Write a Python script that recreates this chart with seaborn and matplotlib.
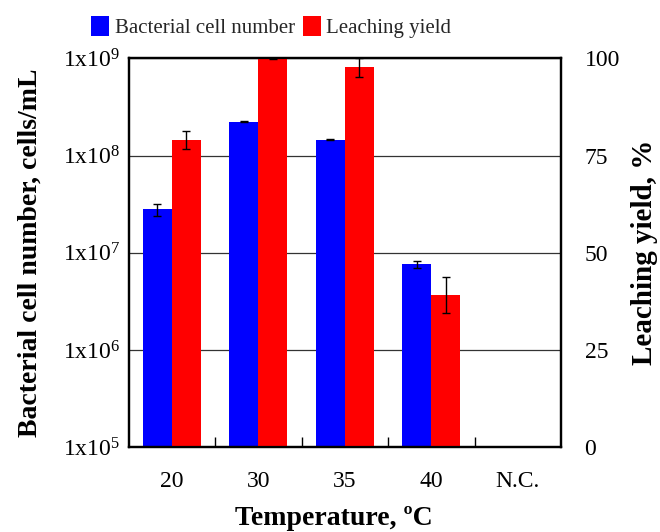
import numpy as np
import pandas as pd
import matplotlib
matplotlib.use("Agg")
import matplotlib.pyplot as plt
from matplotlib.patches import Patch
from matplotlib.ticker import FixedLocator, FuncFormatter, NullLocator
import seaborn as sns

# ---- data ----
temperatures = ["20", "30", "35", "40", "N.C."]
series = ["Bacterial cell number", "Leaching yield"]
cell_number = [2.8e7, 2.23e8, 1.46e8, 7.6e6, np.nan]
cell_err = [4.0e6, 2.0e6, 1.5e6, 6.0e5, np.nan]
leaching_yield = [79.0, 100.0, 97.7, 39.2, np.nan]
leaching_err = [2.4, 0.3, 2.4, 4.7, np.nan]
left_ticks = [1e5, 1e6, 1e7, 1e8, 1e9]
right_ticks = [0, 25, 50, 75, 100]
colors = ["#0000FF", "#FF0000"]

sns.set_theme(style="white")
plt.rcParams["font.family"] = ["Liberation Serif", "DejaVu Serif"]
plt.rcParams["mathtext.fontset"] = "custom"
plt.rcParams["mathtext.rm"] = "Liberation Serif"
plt.rcParams["mathtext.it"] = "Liberation Serif:italic"
plt.rcParams["mathtext.bf"] = "Liberation Serif:bold"

df_cells = pd.DataFrame({"Temperature": temperatures, "Series": series[0], "Value": cell_number})
df_yield = pd.DataFrame({"Temperature": temperatures, "Series": series[1], "Value": leaching_yield})

fig = plt.figure(figsize=(6.6, 5.32), dpi=100)
ax1 = fig.add_axes([0.1947, 0.1592, 0.6553, 0.7312])
ax1.set_yscale("log")
ax2 = ax1.twinx()

sns.barplot(data=df_cells, x="Temperature", y="Value", hue="Series", hue_order=series,
            order=temperatures, palette=colors, width=0.67, saturation=1, dodge=True,
            errorbar=None, legend=False, ax=ax1, linewidth=0)
sns.barplot(data=df_yield, x="Temperature", y="Value", hue="Series", hue_order=series,
            order=temperatures, palette=colors, width=0.67, saturation=1, dodge=True,
            errorbar=None, legend=False, ax=ax2, linewidth=0)

def add_errors(ax, values, errs):
    for p in ax.patches:
        h = p.get_height()
        if not np.isfinite(h) or h <= 0:
            continue
        xc = p.get_x() + p.get_width() / 2
        i = int(round(xc))
        if i < 0 or i >= len(values) or not np.isfinite(values[i]):
            continue
        ax.errorbar(xc, values[i], yerr=errs[i], fmt="none", ecolor="black",
                    elinewidth=1.0, capsize=2.6, capthick=1.0, zorder=5)

add_errors(ax1, cell_number, cell_err)
add_errors(ax2, leaching_yield, leaching_err)

ax1.set_xlim(-0.5, 4.5)
ax1.set_ylim(1e5, 1e9)
ax2.set_ylim(0, 100)

# y ticks
ax1.yaxis.set_major_locator(FixedLocator(left_ticks))
ax1.yaxis.set_minor_locator(NullLocator())
ax1.yaxis.set_major_formatter(FuncFormatter(lambda v, pos: r"1x10$^{%d}$" % int(round(np.log10(v)))))
ax2.yaxis.set_major_locator(FixedLocator(right_ticks))
ax1.tick_params(axis="y", which="major", length=0, pad=6, labelsize=17, colors="black")
ax2.tick_params(axis="y", which="major", length=0, pad=17, labelsize=17, colors="black")

# x ticks: labels at categories, inward ticks between groups
ax1.tick_params(axis="x", which="major", length=0, pad=17, labelsize=17, colors="black")
ax1.xaxis.set_minor_locator(FixedLocator(np.arange(0.5, 4.0, 1.0)))
ax1.tick_params(axis="x", which="minor", direction="in", length=7.5, width=1.0,
                color="black", bottom=True)

# grid
ax1.grid(True, axis="y", which="major", color="#333333", linewidth=0.9)
ax1.grid(False, axis="x")
ax2.grid(False)
ax1.set_axisbelow(True)

for ax in (ax1, ax2):
    for s in ax.spines.values():
        s.set_color("black")
        s.set_linewidth(1.6)
        s.set_visible(True)

ax1.set_xlabel("Temperature, ºC", fontsize=20, fontweight="bold", color="black")
ax1.set_ylabel("Bacterial cell number, cells/mL", fontsize=20, fontweight="bold", color="black")
ax2.set_ylabel("Leaching yield, %", fontsize=21, fontweight="bold", color="black")
ax1.xaxis.label.set_va("center")
ax1.xaxis.set_label_coords(0.476, -0.182)
ax1.yaxis.label.set_va("center")
ax1.yaxis.set_label_coords(-0.228, 0.5)
ax2.yaxis.label.set_va("center")
ax2.yaxis.set_label_coords(1.194, 0.5)

handles = [Patch(facecolor=c, edgecolor="none") for c in colors]
fig.legend(handles, series, loc="center", bbox_to_anchor=(0.411, 0.949), ncol=2,
           frameon=False, fontsize=15, handlelength=0.87, handleheight=1.1,
           handletextpad=0.25, columnspacing=0.4, borderaxespad=0, borderpad=0)

fig.savefig("out.png", dpi=100)
